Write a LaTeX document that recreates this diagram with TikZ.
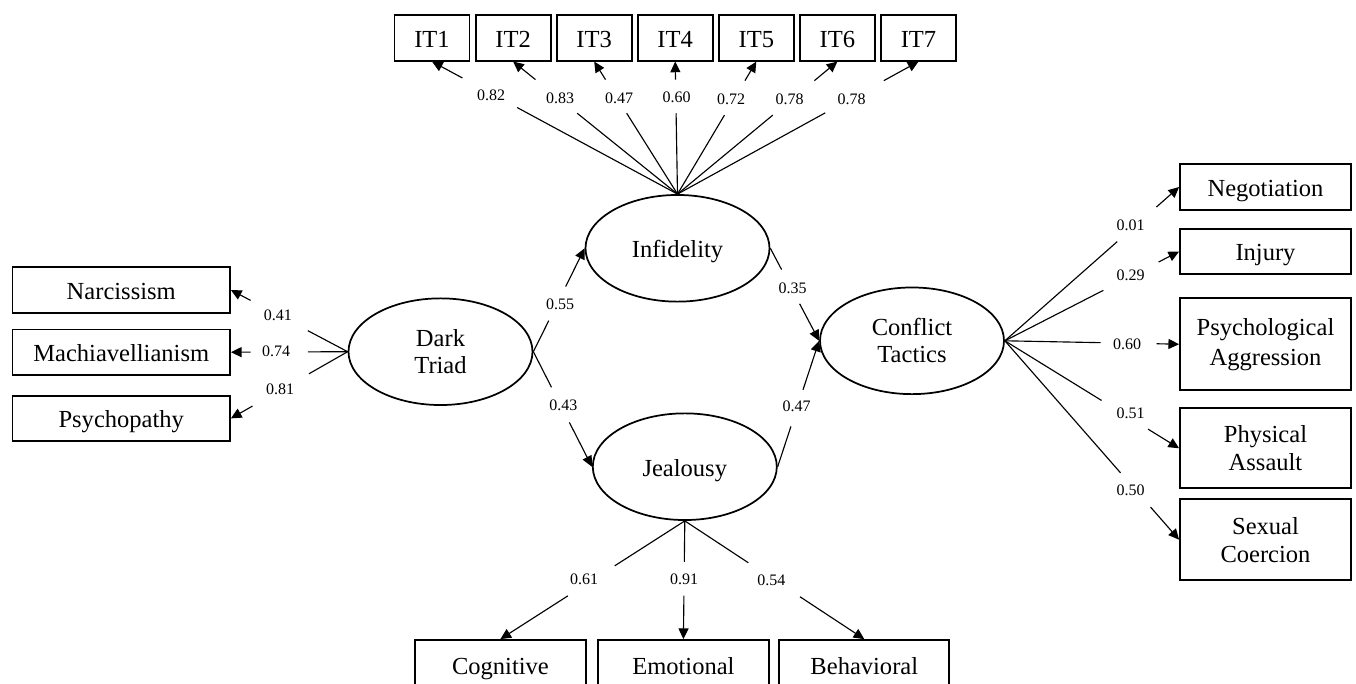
\documentclass[tikz,border=0pt]{standalone}
\usepackage{fontspec}
\setmainfont{Liberation Serif}
\usetikzlibrary{shapes.geometric,arrows.meta,calc}
\newcommand\splitconn[4]{%
  \draw[ln] (#1) -- ($(#1)!#3!(#2)$);
  \draw[arr] ($(#1)!#4!(#2)$) -- (#2);}
\begin{document}
\begin{tikzpicture}[x=0.75pt,y=-0.75pt,
  box/.style={draw,line width=1.35pt,rectangle,inner sep=0pt,font=\fontsize{18.4}{21}\selectfont},
  onel/.style={text height=14.2pt,text depth=0pt},
  twol/.style={align=center},
  lat/.style={draw,line width=1.3pt,ellipse,inner sep=0pt,minimum width=138pt,minimum height=80pt,font=\fontsize{18.4}{20}\selectfont},
  latone/.style={text height=14.2pt,text depth=0pt},
  ln/.style={line width=0.85pt},
  arr/.style={line width=0.85pt,-{Triangle[length=8pt,width=7.5pt]}},
  lab/.style={font=\fontsize{12}{14}\selectfont,inner sep=0pt}]
\useasboundingbox (0,0) rectangle (1356,684);
\clip (0,0) rectangle (1356,684);
% top indicator boxes
\foreach \n/\x in {1/432,2/513.1,3/594.2,4/675.2,5/756.3,6/837.4,7/918.5}
  \node[box,onel,minimum width=56.25pt,minimum height=34.3pt] (it\n) at (\x,37.8) {IT\n};
% left boxes
\node[box,onel,minimum width=163.1pt,minimum height=34.1pt] (nar) at (121.25,290) {Narcissism};
\node[box,onel,minimum width=163.1pt,minimum height=34.1pt] (mac) at (121.25,352.2) {Machiavellianism};
\node[box,onel,minimum width=163.1pt,minimum height=34.1pt] (psy) at (121.25,418.4) {Psychopathy};
% right boxes
\node[box,onel,minimum width=128.25pt,minimum height=34.5pt] (neg) at (1265.5,187) {Negotiation};
\node[box,onel,minimum width=128.25pt,minimum height=33.75pt] (inj) at (1265.5,251.5) {Injury};
\node[box,twol,minimum width=128.25pt,minimum height=68.8pt,font=\fontsize{18.4}{22.5}\selectfont] (psa) at (1265.5,344.2) {Psychological\\Aggression};
\node[box,twol,minimum width=128.25pt,minimum height=60pt] (phy) at (1265.5,448.3) {Physical\\Assault};
\node[box,twol,minimum width=128.25pt,minimum height=60.5pt] (sex) at (1265.5,539.7) {Sexual\\Coercion};
% bottom boxes
\node[box,onel,minimum width=128pt,minimum height=37.5pt] (cog) at (500.4,665) {Cognitive};
\node[box,onel,minimum width=127.8pt,minimum height=37.5pt] (emo) at (683.4,665) {Emotional};
\node[box,onel,minimum width=127.5pt,minimum height=37.5pt] (beh) at (864.3,665) {Behavioral};
% latent variables
\node[lat,latone] (inf) at (677.5,248.3) {Infidelity};
\node[lat,twol] (dt) at (440.5,351.7) {Dark\\Triad};
\node[lat,latone] (jea) at (684.8,466.7) {Jealousy};
\node[lat,twol] (ct) at (912,340.8) {Conflict\\Tactics};
% infidelity indicators
\splitconn{inf.north}{it1.south}{0.653}{0.876}
\splitconn{inf.north}{it2.south}{0.61}{0.864}
\splitconn{inf.north}{it3.south}{0.61}{0.864}
\splitconn{inf.north}{it4.south}{0.61}{0.864}
\splitconn{inf.north}{it5.south}{0.596}{0.856}
\splitconn{inf.north}{it6.south}{0.596}{0.856}
\splitconn{inf.north}{it7.south}{0.613}{0.856}
\node[lab] (l1) at (491,95.7) {0.82};
\node[lab] (l2) at (560,98.3) {0.83};
\node[lab] (l3) at (619,98.3) {0.47};
\node[lab] (l4) at (676.6,97.7) {0.60};
\node[lab] (l5) at (731,99) {0.72};
\node[lab] (l6) at (789.5,99) {0.78};
\node[lab] (l7) at (851.5,99) {0.78};
% dark triad indicators
\splitconn{dt.west}{nar.east}{0.341}{0.831}
\splitconn{dt.west}{mac.east}{0.341}{0.831}
\splitconn{dt.west}{psy.east}{0.332}{0.815}
\node[lab] (l8) at (277.9,315.7) {0.41};
\node[lab] (l9) at (276,351.7) {0.74};
\node[lab] (l10) at (280,389.3) {0.81};
% structural paths
\splitconn{dt.east}{inf.west}{0.3}{0.63}
\splitconn{dt.east}{jea.west}{0.31}{0.615}
\splitconn{inf.east}{ct.west}{0.23}{0.6}
\splitconn{jea.east}{ct.west}{0.32}{0.61}
\node[lab] (l11) at (560,304) {0.55};
\node[lab] (l12) at (563.3,405.7) {0.43};
\node[lab] (l13) at (792.7,288.3) {0.35};
\node[lab] (l14) at (796.7,406.7) {0.47};
% jealousy indicators
\splitconn{jea.south}{cog.north}{0.38}{0.634}
\splitconn{jea.south}{emo.north}{0.347}{0.633}
\splitconn{jea.south}{beh.north}{0.354}{0.642}
\node[lab] (l15) at (584,579.3) {0.61};
\node[lab] (l16) at (684,579.3) {0.91};
\node[lab] (l17) at (771.4,580) {0.54};
% conflict tactics indicators
\splitconn{ct.east}{neg.west}{0.645}{0.87}
\splitconn{ct.east}{inj.west}{0.565}{0.882}
\splitconn{ct.east}{psa.west}{0.549}{0.871}
\splitconn{ct.east}{phy.west}{0.555}{0.822}
\splitconn{ct.east}{sex.west}{0.664}{0.836}
\node[lab] (l18) at (1130.7,225) {0.01};
\node[lab] (l19) at (1130.7,275) {0.29};
\node[lab] (l20) at (1127,344) {0.60};
\node[lab] (l21) at (1130.7,413.3) {0.51};
\node[lab] (l22) at (1130.7,490.7) {0.50};
\end{tikzpicture}
\end{document}
